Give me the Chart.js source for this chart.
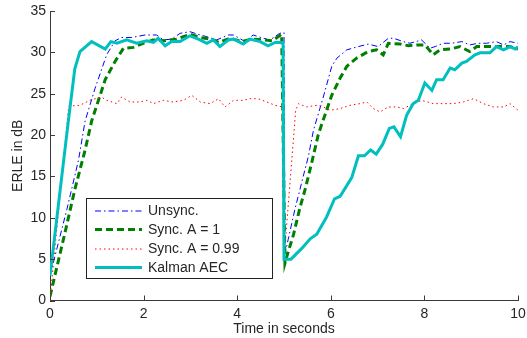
<!DOCTYPE html>
<html>
<head>
<meta charset="utf-8">
<script src="https://cdn.jsdelivr.net/npm/chart.js@4.4.1/dist/chart.umd.min.js"></script>
<style>
  html, body { margin: 0; padding: 0; background: #fff; }
  canvas { display: block; }
</style>
</head>
<body>
<canvas id="chart" width="527" height="338"></canvas>
<script>
// Values (time in s, ERLE in dB)
const unsyncT = [0, 0.36, 0.61, 0.75, 0.96, 1.21, 1.39, 1.53, 1.75, 2.03, 2.28, 2.42, 2.60, 2.78, 2.99, 3.21, 3.35, 3.56, 3.81, 3.92, 4.17, 4.34, 4.56, 4.70, 4.91, 5.0,
  5.02, 5.09, 5.24, 5.34, 5.41, 5.52, 5.63, 5.84, 6.02, 6.13, 6.34, 6.59, 6.80, 7.01, 7.23, 7.34, 7.55, 7.69, 7.94, 8.12, 8.23, 8.40, 8.58, 8.80, 8.97, 9.15, 9.33, 9.54, 9.69, 9.83, 10.0];
const unsyncDb = [3, 11, 17, 21.7, 25.6, 29.7, 31.4, 31.8, 31.8, 32.1, 32.1, 31.5, 31.6, 32.3, 32.5, 32.1, 31.9, 31.5, 32.1, 32.1, 31.3, 32.1, 31.7, 31.5, 32.3, 32.4,
  5.6, 7.4, 11.2, 13.4, 15.0, 17.4, 20.6, 24.6, 28.3, 29.3, 30.3, 30.7, 31.0, 30.7, 31.7, 31.7, 31.3, 31.1, 31.5, 30.5, 30.7, 31.1, 31.1, 31.3, 30.9, 31.1, 31.1, 31.3, 30.9, 31.3, 31.1];

const syncT = [0, 0.32, 0.53, 0.75, 0.89, 1.18, 1.39, 1.57, 1.78, 1.99, 2.2, 2.45, 2.7, 3.0, 3.2, 3.45, 3.6, 3.85, 4.1, 4.3, 4.55, 4.75, 4.95,
  5.02, 5.09, 5.20, 5.34, 5.45, 5.59, 5.73, 5.80, 6.02, 6.20, 6.34, 6.55, 6.80, 6.98, 7.12, 7.23, 7.48, 7.66, 7.84, 8.01, 8.19, 8.33, 8.55, 8.76, 8.97, 9.12, 9.40, 9.62, 9.83, 10.0];
const syncDb = [0.5, 8.2, 13.4, 18.2, 21.7, 26.7, 28.9, 30.5, 30.6, 31.1, 31.5, 31.4, 31.6, 32.2, 31.8, 31.6, 31.2, 31.7, 31.3, 31.6, 31.5, 31.4, 32.2,
  4.5, 5.9, 7.9, 11.2, 13.4, 16.6, 20.0, 21.2, 24.8, 26.9, 28.3, 29.3, 30.1, 30.3, 29.7, 31.1, 31.0, 30.8, 30.9, 30.9, 29.7, 30.3, 30.4, 30.7, 30.1, 30.7, 30.7, 30.7, 30.7, 30.4];

const sync99T = [0, 0.40, 0.64, 0.85, 1.10, 1.21, 1.43, 1.53, 1.71, 1.92, 2.07, 2.21, 2.42, 2.63, 2.85, 3.03, 3.21, 3.42, 3.60, 3.74, 3.92, 4.13, 4.27, 4.45, 4.63, 4.81, 4.96,
  5.0, 5.25, 5.31, 5.48, 5.70, 5.84, 5.98, 6.20, 6.41, 6.62, 6.77, 6.91, 7.05, 7.23, 7.41, 7.55, 7.76, 7.94, 8.19, 8.40, 8.62, 8.83, 9.05, 9.26, 9.47, 9.69, 9.83, 10.0];
const sync99Db = [0.2, 23.5, 23.6, 24.2, 24.6, 24.2, 23.8, 24.6, 24.0, 24.0, 24.2, 23.8, 24.2, 24.0, 24.2, 24.8, 24.0, 23.8, 24.4, 23.4, 24.2, 24.2, 24.4, 24.4, 24.0, 23.6, 23.4,
  5.0, 23.0, 23.8, 23.4, 23.6, 23.4, 23.0, 23.2, 23.6, 23.8, 24.0, 23.2, 22.8, 23.4, 23.4, 23.2, 23.8, 24.2, 23.8, 23.8, 23.8, 24.0, 24.4, 23.8, 23.4, 23.4, 23.8, 23.0];

const kalmanT = [0, 0.39, 0.53, 0.64, 0.89, 1.18, 1.30, 1.43, 1.64, 1.85, 2.07, 2.21, 2.31, 2.46, 2.60, 2.78, 2.99, 3.17, 3.35, 3.49, 3.63, 3.81, 3.92, 4.13, 4.27, 4.49, 4.66, 4.81, 4.91, 4.98,
  5.0, 5.15, 5.38, 5.56, 5.70, 5.91, 6.08, 6.20, 6.45, 6.59, 6.72, 6.85, 6.97, 7.11, 7.25, 7.35, 7.49, 7.62, 7.76, 7.87, 8.01, 8.16, 8.26, 8.40, 8.55, 8.65, 8.80, 8.90, 9.08, 9.19, 9.40, 9.54, 9.69, 9.83, 9.94, 10.0];
const kalmanDb = [3, 21.6, 28.0, 30.1, 31.3, 30.4, 31.3, 31.1, 31.5, 31.1, 31.4, 31.2, 31.7, 30.8, 31.3, 31.3, 32.0, 31.6, 31.1, 31.5, 30.7, 31.5, 31.6, 31.0, 31.6, 31.3, 30.8, 31.2, 31.2, 31.2,
  5.0, 5.0, 6.3, 7.45, 8.0, 10.1, 12.3, 12.6, 14.9, 17.5, 17.5, 18.2, 17.7, 18.9, 20.8, 21.0, 19.8, 22.4, 23.8, 24.2, 26.3, 25.4, 26.7, 26.7, 28.1, 27.9, 28.7, 28.9, 29.7, 29.95, 29.95, 30.7, 30.3, 30.7, 30.4, 30.7];

const seriesNames = ["Unsync.", "Sync. A = 1", "Sync. A = 0.99", "Kalman AEC"];
const xTicks = [0, 2, 4, 6, 8, 10];
const yTicks = [0, 5, 10, 15, 20, 25, 30, 35];

const toPoints = (ts, vals) => ts.map((t, i) => ({ x: t, y: vals[i] }));

const FONT = "'Liberation Sans', Arial, Helvetica, sans-serif";
const TEXT = "#262626";
const AXIS = "#3a3a3a";

// MATLAB style: ticks pointing into the plot
const innerTicks = {
  id: "innerTicks",
  afterDraw(chart) {
    const { ctx, chartArea, scales } = chart;
    ctx.save();
    ctx.strokeStyle = AXIS;
    ctx.lineWidth = 1;
    ctx.beginPath();
    xTicks.forEach(v => {
      const px = Math.round(scales.x.getPixelForValue(v)) + 0.5;
      ctx.moveTo(px, chartArea.bottom);
      ctx.lineTo(px, chartArea.bottom - 5);
    });
    yTicks.forEach(v => {
      const py = Math.round(scales.y.getPixelForValue(v)) + 0.5;
      ctx.moveTo(chartArea.left, py);
      ctx.lineTo(chartArea.left + 5, py);
    });
    ctx.stroke();
    ctx.restore();
  }
};

// Boxed legend in the lower left of the plot
const boxLegend = {
  id: "boxLegend",
  afterDraw(chart) {
    const { ctx, chartArea } = chart;
    const left = chartArea.left + 36, top = chartArea.top + 187;
    const w = 186, h = 80;
    ctx.save();
    ctx.fillStyle = "#fff";
    ctx.fillRect(left, top, w, h);
    ctx.strokeStyle = "#222";
    ctx.lineWidth = 1;
    ctx.strokeRect(left + 0.5, top + 0.5, w, h);
    const rows = [13, 31.5, 51, 69.5];
    chart.data.datasets.forEach((ds, i) => {
      const y = top + rows[i];
      ctx.beginPath();
      ctx.strokeStyle = ds.borderColor;
      ctx.lineWidth = ds.borderWidth;
      ctx.setLineDash(ds.borderDash || []);
      ctx.moveTo(left + 9, y);
      ctx.lineTo(left + 56, y);
      ctx.stroke();
      ctx.setLineDash([]);
      ctx.fillStyle = TEXT;
      ctx.font = "14px " + FONT;
      ctx.textBaseline = "middle";
      ctx.textAlign = "left";
      ctx.fillText(seriesNames[i], left + 62, y + 0.5);
    });
    ctx.restore();
  }
};

new Chart(document.getElementById("chart"), {
  type: "line",
  data: {
    datasets: [
      {
        label: seriesNames[0],
        data: toPoints(unsyncT, unsyncDb),
        borderColor: "#0000ff",
        borderWidth: 1,
        borderDash: [6, 3, 1.5, 3],
        order: 3
      },
      {
        label: seriesNames[1],
        data: toPoints(syncT, syncDb),
        borderColor: "#008000",
        borderWidth: 3,
        borderDash: [7, 4],
        order: 2
      },
      {
        label: seriesNames[2],
        data: toPoints(sync99T, sync99Db),
        borderColor: "#ff0000",
        borderWidth: 1,
        borderDash: [1.5, 3],
        order: 1
      },
      {
        label: seriesNames[3],
        data: toPoints(kalmanT, kalmanDb),
        borderColor: "#00bfbf",
        borderWidth: 3,
        order: 0
      }
    ]
  },
  options: {
    responsive: false,
    animation: false,
    devicePixelRatio: 1,
    elements: {
      point: { radius: 0 },
      line: { tension: 0, fill: false, borderJoinStyle: "miter" }
    },
    layout: { padding: { top: 11, right: 9, left: 0, bottom: 0 } },
    plugins: {
      legend: { display: false },
      tooltip: { enabled: false }
    },
    scales: {
      x: {
        type: "linear",
        min: 0,
        max: 10,
        afterBuildTicks: s => { s.ticks = xTicks.map(v => ({ value: v })); },
        afterFit: s => { s.height = 37.5; s.paddingLeft = 0; s.paddingRight = 0; },
        grid: { display: true, drawOnChartArea: false, drawTicks: false },
        border: { display: true, color: AXIS, width: 1 },
        ticks: { color: TEXT, padding: 5, font: { family: FONT, size: 14 }, maxRotation: 0 },
        title: { display: true, text: "Time in seconds", color: TEXT, font: { family: FONT, size: 14 }, padding: { top: 0, bottom: 0 } }
      },
      y: {
        type: "linear",
        min: 0,
        max: 35,
        afterBuildTicks: s => { s.ticks = yTicks.map(v => ({ value: v })); },
        afterFit: s => { s.width = 50; s.paddingTop = 0; s.paddingBottom = 0; },
        grid: { display: true, drawOnChartArea: false, drawTicks: false },
        border: { display: true, color: AXIS, width: 1 },
        ticks: { color: TEXT, padding: 4, font: { family: FONT, size: 14 } },
        title: { display: true, text: "ERLE in dB", color: TEXT, font: { family: FONT, size: 14 }, padding: { top: 10, bottom: 0 } }
      }
    }
  },
  plugins: [innerTicks, boxLegend]
});
</script>
</body>
</html>
